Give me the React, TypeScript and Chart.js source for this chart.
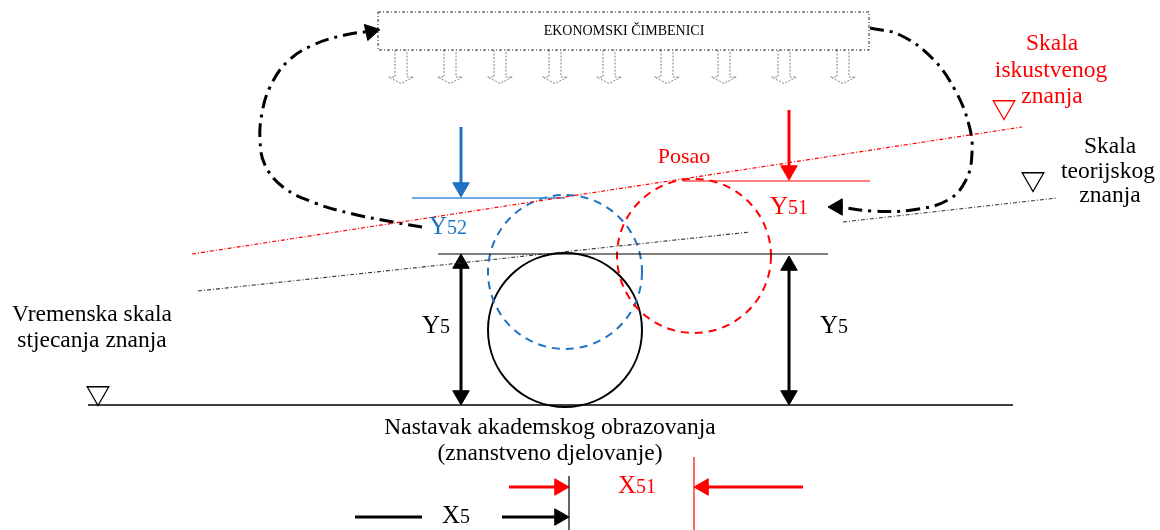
import React, { useEffect, useRef } from 'react';
import { Chart, registerables } from 'chart.js';

Chart.register(...registerables);

type P = { x: number; y: number };

// ---------- diagram data (coordinates in the 1160 x 530 drawing space) ----------
const boxLabel = 'EKONOMSKI ČIMBENICI';
const boxOutline: P[] = [
  { x: 378, y: 12 }, { x: 869, y: 12 }, { x: 869, y: 50 }, { x: 378, y: 50 }, { x: 378, y: 12 },
];
const factorArrowX = [401, 450, 500, 555, 609, 667, 724, 784, 843];

const experienceScale: P[] = [{ x: 192, y: 254 }, { x: 1022, y: 127 }];
const theoryScaleA: P[] = [{ x: 198, y: 291 }, { x: 750, y: 232 }];
const theoryScaleB: P[] = [{ x: 843, y: 222 }, { x: 1057, y: 198 }];
const academicTop: P[] = [{ x: 438, y: 254 }, { x: 828, y: 254 }];
const timeBase: P[] = [{ x: 88, y: 405 }, { x: 1013, y: 405 }];
const blueLevel: P[] = [{ x: 412, y: 198 }, { x: 565, y: 198 }];
const redLevel: P[] = [{ x: 683, y: 181 }, { x: 870, y: 181 }];

const leftLoop: P[] = [
  { x: 422, y: 227 }, { x: 393, y: 222 }, { x: 353, y: 214 }, { x: 315, y: 203 }, { x: 283, y: 187 },
  { x: 265, y: 165 }, { x: 260, y: 140 }, { x: 262, y: 113 }, { x: 270, y: 87 }, { x: 287, y: 62 },
  { x: 313, y: 45 }, { x: 345, y: 35 }, { x: 372, y: 31 },
];
const rightLoop: P[] = [
  { x: 870, y: 28 }, { x: 900, y: 35 }, { x: 932, y: 58 }, { x: 955, y: 90 }, { x: 969, y: 125 },
  { x: 972, y: 153 }, { x: 966, y: 180 }, { x: 948, y: 200 }, { x: 912, y: 210 }, { x: 872, y: 211 },
  { x: 840, y: 207 },
];

const blueDrop: P[] = [{ x: 461, y: 127 }, { x: 461, y: 186 }];
const redDrop: P[] = [{ x: 789, y: 110 }, { x: 789, y: 170 }];
const y5Left: P[] = [{ x: 461, y: 262 }, { x: 461, y: 397 }];
const y5Right: P[] = [{ x: 789, y: 264 }, { x: 789, y: 397 }];
const x51LeftShaft: P[] = [{ x: 509, y: 487 }, { x: 560, y: 487 }];
const x51RightShaft: P[] = [{ x: 803, y: 487 }, { x: 703, y: 487 }];
const x5Tail: P[] = [{ x: 355, y: 517 }, { x: 422, y: 517 }];
const x5Shaft: P[] = [{ x: 502, y: 517 }, { x: 560, y: 517 }];
const x5Mark: P[] = [{ x: 569, y: 476 }, { x: 569, y: 530 }];
const x51Mark: P[] = [{ x: 694, y: 457 }, { x: 694, y: 530 }];

// arrow heads: centroid + direction (deg, 0 = up)
const blueHeads: P[] = [{ x: 461, y: 187.5 }];
const blueHeadRot = [180];
const redHeads: P[] = [{ x: 789, y: 170.5 }, { x: 559.5, y: 487 }, { x: 703.5, y: 487 }];
const redHeadRot = [180, 90, 270];
const blackHeads: P[] = [
  { x: 461, y: 263.5 }, { x: 461, y: 395.5 }, { x: 789, y: 265.5 }, { x: 789, y: 395.5 },
  { x: 559.5, y: 517 }, { x: 837.5, y: 207 }, { x: 370.7, y: 31.5 },
];
const blackHeadRot = [0, 180, 0, 180, 90, 270, 78];

// scale markers (hollow ▽)
const redMarkers: P[] = [{ x: 1004, y: 107 }];
const blackMarkers: P[] = [{ x: 1033, y: 179 }, { x: 98, y: 393 }];

// circles: centre + radius
const academicCircle = { x: 565, y: 330, r: 77 };
const theoryCircle = { x: 565, y: 272, r: 77 };
const jobCircle = { x: 694, y: 256, r: 77 };

// texts
const experienceLabel = ['Skala', 'iskustvenog', 'znanja'];
const theoryLabel = ['Skala', 'teorijskog', 'znanja'];
const timeLabel = ['Vremenska skala', 'stjecanja znanja'];
const academicLabel = ['Nastavak akademskog obrazovanja', '(znanstveno djelovanje)'];
const jobLabel = 'Posao';

// ---------- styles ----------
const RED = '#ff0000';
const BLUE = '#1f72c0';
const BLUE_LIGHT = '#3f8fd8';
const BLACK = '#000000';
const FONT = "'Liberation Serif', 'Times New Roman', serif";

type Label = { t: string; x: number; y: number; size: number; color: string; sub?: string };

const labels: Label[] = [
  { t: boxLabel, x: 624, y: 31, size: 14, color: BLACK },
  { t: experienceLabel[0], x: 1052, y: 44, size: 23.5, color: RED },
  { t: experienceLabel[1], x: 1051, y: 71, size: 23.5, color: RED },
  { t: experienceLabel[2], x: 1052, y: 97, size: 23.5, color: RED },
  { t: theoryLabel[0], x: 1110, y: 147, size: 23.5, color: BLACK },
  { t: theoryLabel[1], x: 1108, y: 172, size: 23.5, color: BLACK },
  { t: theoryLabel[2], x: 1110, y: 196, size: 23.5, color: BLACK },
  { t: timeLabel[0], x: 92, y: 315, size: 23.5, color: BLACK },
  { t: timeLabel[1], x: 92, y: 341, size: 23.5, color: BLACK },
  { t: academicLabel[0], x: 550, y: 428, size: 23.5, color: BLACK },
  { t: academicLabel[1], x: 550, y: 454, size: 23.5, color: BLACK },
  { t: jobLabel, x: 684, y: 157, size: 22, color: RED },
  { t: 'Y', sub: '52', x: 448, y: 227, size: 25, color: BLUE },
  { t: 'Y', sub: '51', x: 789, y: 207, size: 25, color: RED },
  { t: 'Y', sub: '5', x: 436, y: 326, size: 25, color: BLACK },
  { t: 'Y', sub: '5', x: 834, y: 326, size: 25, color: BLACK },
  { t: 'X', sub: '51', x: 637, y: 486, size: 25, color: RED },
  { t: 'X', sub: '5', x: 456, y: 516, size: 25, color: BLACK },
];

const circleStyles = [
  { c: academicCircle, color: BLACK, width: 2, dash: [] as number[] },
  { c: theoryCircle, color: BLUE, width: 2, dash: [8, 6] },
  { c: jobCircle, color: RED, width: 2, dash: [8, 6] },
];

const diagramPlugin = {
  id: 'diagram',
  beforeDatasetsDraw(chart: any) {
    const { ctx, scales } = chart;
    const xs = scales.x, ys = scales.y;
    ctx.save();
    ctx.fillStyle = '#ffffff';
    ctx.fillRect(0, 0, chart.width, chart.height);
    ctx.restore();
    ctx.save();
    circleStyles.forEach(({ c, color, width, dash }) => {
      const cx = xs.getPixelForValue(c.x);
      const cy = ys.getPixelForValue(c.y);
      const r = Math.abs(xs.getPixelForValue(c.x + c.r) - cx);
      ctx.beginPath();
      ctx.setLineDash(dash);
      ctx.lineWidth = width;
      ctx.strokeStyle = color;
      ctx.arc(cx, cy, r, 0, Math.PI * 2);
      ctx.stroke();
    });
    ctx.restore();
  },
  afterDatasetsDraw(chart: any) {
    const { ctx, scales } = chart;
    const xs = scales.x, ys = scales.y;
    ctx.save();
    ctx.textBaseline = 'middle';
    labels.forEach((l) => {
      const px = xs.getPixelForValue(l.x);
      const py = ys.getPixelForValue(l.y);
      ctx.fillStyle = l.color;
      if (!l.sub) {
        ctx.font = `${l.size}px ${FONT}`;
        ctx.textAlign = 'center';
        ctx.fillText(l.t, px, py);
      } else {
        const subSize = Math.round(l.size * 0.8);
        ctx.font = `${l.size}px ${FONT}`;
        const w1 = ctx.measureText(l.t).width;
        ctx.font = `${subSize}px ${FONT}`;
        const w2 = ctx.measureText(l.sub).width;
        const start = px - (w1 + w2) / 2;
        ctx.textAlign = 'left';
        ctx.font = `${l.size}px ${FONT}`;
        ctx.fillText(l.t, start, py);
        ctx.font = `${subSize}px ${FONT}`;
        ctx.fillText(l.sub, start + w1, py + 2);
      }
    });
    ctx.restore();
  },
};

function line(data: P[], color: string, width: number, dash: number[] = [], tension = 0) {
  return {
    data,
    showLine: true,
    borderColor: color,
    borderWidth: width,
    borderDash: dash,
    borderCapStyle: 'butt',
    tension,
    pointRadius: 0,
    pointHoverRadius: 0,
    fill: false,
    clip: false,
  };
}

function heads(data: P[], rot: number[], color: string, radius = 9.5) {
  return {
    data,
    showLine: false,
    pointStyle: 'triangle',
    pointRadius: radius,
    pointHoverRadius: radius,
    pointRotation: (c: any) => rot[c.dataIndex] ?? 0,
    pointBackgroundColor: color,
    pointBorderColor: color,
    pointBorderWidth: 1,
    clip: false,
  };
}

function markers(data: P[], color: string) {
  return {
    data,
    showLine: false,
    pointStyle: 'triangle',
    pointRadius: 12.5,
    pointHoverRadius: 12.5,
    pointRotation: 180,
    pointBackgroundColor: 'rgba(255,255,255,0)',
    pointBorderColor: color,
    pointBorderWidth: 1.3,
    clip: false,
  };
}

function hollowArrow(x: number): P[] {
  return [
    { x: x - 6, y: 50 }, { x: x - 6, y: 77 }, { x: x - 12.5, y: 77 }, { x: x, y: 83.5 },
    { x: x + 12.5, y: 77 }, { x: x + 6, y: 77 }, { x: x + 6, y: 50 },
  ];
}

export default function App() {
  const ref = useRef<HTMLCanvasElement | null>(null);

  useEffect(() => {
    document.body.style.margin = '0';
    if (!ref.current) return;
    const datasets: any[] = [
      line(boxOutline, '#222', 1, [3, 2, 1, 2]),
      ...factorArrowX.map((x) => line(hollowArrow(x), '#808080', 1, [2, 1.5])),
      line(experienceScale, RED, 1.2, [4, 2, 1, 2]),
      line(theoryScaleA, '#333', 1.1, [4, 2, 1, 2]),
      line(theoryScaleB, '#333', 1.1, [4, 2, 1, 2]),
      line(academicTop, BLACK, 1.2),
      line(timeBase, BLACK, 1.5),
      line(blueLevel, BLUE_LIGHT, 1.5),
      line(redLevel, RED, 1.2),
      line(leftLoop, BLACK, 3, [14, 6, 3, 6], 0.4),
      line(rightLoop, BLACK, 3, [14, 6, 3, 6], 0.4),
      line(blueDrop, BLUE, 3),
      line(redDrop, RED, 3),
      line(y5Left, BLACK, 3),
      line(y5Right, BLACK, 3),
      line(x51LeftShaft, RED, 3),
      line(x51RightShaft, RED, 3),
      line(x5Tail, BLACK, 3),
      line(x5Shaft, BLACK, 3),
      line(x5Mark, BLACK, 1.2),
      line(x51Mark, RED, 1.2),
      heads(blueHeads, blueHeadRot, BLUE),
      heads(redHeads, redHeadRot, RED),
      heads(blackHeads, blackHeadRot, BLACK),
      markers(redMarkers, RED),
      markers(blackMarkers, BLACK),
    ];
    const chart = new Chart(ref.current, {
      type: 'scatter',
      data: { datasets },
      options: {
        animation: false,
        responsive: false,
        maintainAspectRatio: false,
        events: [],
        layout: { padding: 0, autoPadding: false },
        plugins: { legend: { display: false }, tooltip: { enabled: false } },
        scales: {
          x: { type: 'linear', min: 0, max: 1160, display: false },
          y: { type: 'linear', min: 0, max: 530, reverse: true, display: false },
        },
      } as any,
      plugins: [diagramPlugin as any],
    });
    return () => chart.destroy();
  }, []);

  return (
    <div style={{ position: 'absolute', left: 0, top: 0, width: 1160, height: 530 }}>
      <canvas ref={ref} width={1160} height={530} style={{ width: 1160, height: 530, display: 'block' }} />
    </div>
  );
}
